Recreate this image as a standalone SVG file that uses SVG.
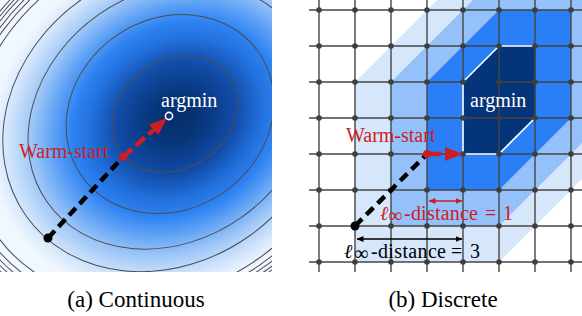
<svg xmlns="http://www.w3.org/2000/svg" width="582" height="316" viewBox="0 0 582 316">
  <defs>
    <radialGradient id="bg" gradientUnits="userSpaceOnUse" cx="0" cy="0" r="1" gradientTransform="translate(176 119) rotate(-35) scale(195 165)">
      <stop offset="0" stop-color="#052d6a"/>
      <stop offset="0.14" stop-color="#07367a"/>
      <stop offset="0.32" stop-color="#114ca8"/>
      <stop offset="0.46" stop-color="#2270dc"/>
      <stop offset="0.56" stop-color="#2e83f3"/>
      <stop offset="0.66" stop-color="#5ea1f5"/>
      <stop offset="0.78" stop-color="#9dc6f8"/>
      <stop offset="0.9" stop-color="#cfe3fb"/>
      <stop offset="1" stop-color="#f1f7ff"/>
    </radialGradient>
    <clipPath id="leftClip"><rect x="0" y="0" width="272" height="272"/></clipPath>
    <marker id="headRed" viewBox="0 0 18 14" refX="0" refY="7" markerWidth="18" markerHeight="14" markerUnits="userSpaceOnUse" orient="auto">
      <path d="M0,0 L18,7 L0,14 z" fill="#cc1f24"/>
    </marker>
    <marker id="tipRed" viewBox="0 0 7 6" refX="6.5" refY="3" markerWidth="7" markerHeight="6" markerUnits="userSpaceOnUse" orient="auto-start-reverse">
      <path d="M0,0 L7,3 L0,6 z" fill="#cc1f24"/>
    </marker>
    <marker id="tipBlack" viewBox="0 0 7 6" refX="6.5" refY="3" markerWidth="7" markerHeight="6" markerUnits="userSpaceOnUse" orient="auto-start-reverse">
      <path d="M0,0 L7,3 L0,6 z" fill="#000"/>
    </marker>
    <style>
      .contour { fill: none; stroke: #4d4d4d; stroke-width: 1; }
      .grid { stroke: #454545; stroke-width: 1.4; }
      .gdot { fill: #3e3e3e; }
      .lbl { font-family: "Liberation Serif", "Times New Roman", serif; font-size: 20px; }
      .cap { font-family: "Liberation Serif", "Times New Roman", serif; font-size: 23px; fill: #000; text-anchor: middle; }
      .red { fill: #cc1f24; }
      .white { fill: #ffffff; }
      .blk { fill: #000; }
      .dashBlack { fill: none; stroke: #000; stroke-width: 4.5; }
      .dashRed { fill: none; stroke: #cc1f24; stroke-width: 4.5; }
      .thinRed { fill: none; stroke: #cc1f24; stroke-width: 1.5; }
      .thinBlack { fill: none; stroke: #000; stroke-width: 1.5; }
    </style>
  </defs>

  <rect x="0" y="0" width="582" height="316" fill="#ffffff"/>

  <!-- (a) Continuous -->
  <g id="panel-continuous" clip-path="url(#leftClip)">
    <rect x="0" y="0" width="272" height="272" fill="url(#bg)"/>
    <g id="contours">
      <ellipse class="contour" cx="175" cy="114" rx="66" ry="54" transform="rotate(-35 175 114)"/>
      <ellipse class="contour" cx="170" cy="114" rx="108" ry="95" transform="rotate(-35 170 114)"/>
      <ellipse class="contour" cx="170" cy="116" rx="150" ry="124" transform="rotate(-35 170 116)"/>
      <ellipse class="contour" cx="165" cy="118" rx="170" ry="145" transform="rotate(-35 165 118)"/>
      <ellipse class="contour" cx="160" cy="120" rx="200" ry="170" transform="rotate(-35 160 120)"/>
      <ellipse class="contour" cx="160" cy="120" rx="208" ry="176" transform="rotate(-35 160 120)"/>
      <ellipse class="contour" cx="160" cy="120" rx="213" ry="180" transform="rotate(-35 160 120)"/>
      <ellipse class="contour" cx="160" cy="120" rx="217" ry="184" transform="rotate(-35 160 120)"/>
      <ellipse class="contour" cx="160" cy="120" rx="221" ry="187" transform="rotate(-35 160 120)"/>
      <ellipse class="contour" cx="160" cy="120" rx="225" ry="190" transform="rotate(-35 160 120)"/>
    </g>
  </g>

  <!-- (b) Discrete: level regions -->
  <g id="panel-discrete">
    <polygon id="level3" points="355,262 355,82 437,0 582,0 582,179 499,262" fill="#d6e7fc"/>
    <polygon id="level2" points="391,226 391,82 473,0 582,0 582,143 499,226" fill="#94c1f9"/>
    <polygon id="level1" points="427,190 427,82 499,10 571,10 571,118 499,190" fill="#2a7ff6"/>
    <g id="grid">
      <line class="grid" x1="309" y1="10" x2="582" y2="10"/>
      <line class="grid" x1="309" y1="46" x2="582" y2="46"/>
      <line class="grid" x1="309" y1="82" x2="582" y2="82"/>
      <line class="grid" x1="309" y1="118" x2="582" y2="118"/>
      <line class="grid" x1="309" y1="154" x2="582" y2="154"/>
      <line class="grid" x1="309" y1="190" x2="582" y2="190"/>
      <line class="grid" x1="309" y1="226" x2="582" y2="226"/>
      <line class="grid" x1="309" y1="262" x2="582" y2="262"/>
      <line class="grid" x1="319" y1="0" x2="319" y2="272"/>
      <line class="grid" x1="355" y1="0" x2="355" y2="272"/>
      <line class="grid" x1="391" y1="0" x2="391" y2="272"/>
      <line class="grid" x1="427" y1="0" x2="427" y2="272"/>
      <line class="grid" x1="463" y1="0" x2="463" y2="272"/>
      <line class="grid" x1="499" y1="0" x2="499" y2="272"/>
      <line class="grid" x1="535" y1="0" x2="535" y2="272"/>
      <line class="grid" x1="571" y1="0" x2="571" y2="272"/>
    </g>
    <g id="argmin-region">
      <polygon points="463,154 463,82 499,46 535,46 535,118 499,154" fill="#04357b"/>
      <polyline points="535,46 499,46 463,82 463,154 499,154 535,118" fill="none" stroke="#ffffff" stroke-width="1.6"/>
      <line class="grid" x1="499" y1="46" x2="499" y2="154"/>
      <line class="grid" x1="463" y1="118" x2="535" y2="118"/>
      <line class="grid" x1="499" y1="82" x2="535" y2="82"/>
      <line class="grid" x1="535" y1="46" x2="535" y2="118"/>
    </g>
    <g id="grid-dots">
      <g transform="translate(0 10)"><circle class="gdot" cx="319" cy="0" r="2.8"/><circle class="gdot" cx="355" cy="0" r="2.8"/><circle class="gdot" cx="391" cy="0" r="2.8"/><circle class="gdot" cx="427" cy="0" r="2.8"/><circle class="gdot" cx="463" cy="0" r="2.8"/><circle class="gdot" cx="499" cy="0" r="2.8"/><circle class="gdot" cx="535" cy="0" r="2.8"/><circle class="gdot" cx="571" cy="0" r="2.8"/></g>
      <g transform="translate(0 46)"><circle class="gdot" cx="319" cy="0" r="2.8"/><circle class="gdot" cx="355" cy="0" r="2.8"/><circle class="gdot" cx="391" cy="0" r="2.8"/><circle class="gdot" cx="427" cy="0" r="2.8"/><circle class="gdot" cx="463" cy="0" r="2.8"/><circle class="gdot" cx="499" cy="0" r="2.8"/><circle class="gdot" cx="535" cy="0" r="2.8"/><circle class="gdot" cx="571" cy="0" r="2.8"/></g>
      <g transform="translate(0 82)"><circle class="gdot" cx="319" cy="0" r="2.8"/><circle class="gdot" cx="355" cy="0" r="2.8"/><circle class="gdot" cx="391" cy="0" r="2.8"/><circle class="gdot" cx="427" cy="0" r="2.8"/><circle class="gdot" cx="463" cy="0" r="2.8"/><circle class="gdot" cx="499" cy="0" r="2.8"/><circle class="gdot" cx="535" cy="0" r="2.8"/><circle class="gdot" cx="571" cy="0" r="2.8"/></g>
      <g transform="translate(0 118)"><circle class="gdot" cx="319" cy="0" r="2.8"/><circle class="gdot" cx="355" cy="0" r="2.8"/><circle class="gdot" cx="391" cy="0" r="2.8"/><circle class="gdot" cx="427" cy="0" r="2.8"/><circle class="gdot" cx="463" cy="0" r="2.8"/><circle class="gdot" cx="499" cy="0" r="2.8"/><circle class="gdot" cx="535" cy="0" r="2.8"/><circle class="gdot" cx="571" cy="0" r="2.8"/></g>
      <g transform="translate(0 154)"><circle class="gdot" cx="319" cy="0" r="2.8"/><circle class="gdot" cx="355" cy="0" r="2.8"/><circle class="gdot" cx="391" cy="0" r="2.8"/><circle class="gdot" cx="427" cy="0" r="2.8"/><circle class="gdot" cx="463" cy="0" r="2.8"/><circle class="gdot" cx="499" cy="0" r="2.8"/><circle class="gdot" cx="535" cy="0" r="2.8"/><circle class="gdot" cx="571" cy="0" r="2.8"/></g>
      <g transform="translate(0 190)"><circle class="gdot" cx="319" cy="0" r="2.8"/><circle class="gdot" cx="355" cy="0" r="2.8"/><circle class="gdot" cx="391" cy="0" r="2.8"/><circle class="gdot" cx="427" cy="0" r="2.8"/><circle class="gdot" cx="463" cy="0" r="2.8"/><circle class="gdot" cx="499" cy="0" r="2.8"/><circle class="gdot" cx="535" cy="0" r="2.8"/><circle class="gdot" cx="571" cy="0" r="2.8"/></g>
      <g transform="translate(0 226)"><circle class="gdot" cx="319" cy="0" r="2.8"/><circle class="gdot" cx="355" cy="0" r="2.8"/><circle class="gdot" cx="391" cy="0" r="2.8"/><circle class="gdot" cx="427" cy="0" r="2.8"/><circle class="gdot" cx="463" cy="0" r="2.8"/><circle class="gdot" cx="499" cy="0" r="2.8"/><circle class="gdot" cx="535" cy="0" r="2.8"/><circle class="gdot" cx="571" cy="0" r="2.8"/></g>
      <g transform="translate(0 262)"><circle class="gdot" cx="319" cy="0" r="2.8"/><circle class="gdot" cx="355" cy="0" r="2.8"/><circle class="gdot" cx="391" cy="0" r="2.8"/><circle class="gdot" cx="427" cy="0" r="2.8"/><circle class="gdot" cx="463" cy="0" r="2.8"/><circle class="gdot" cx="499" cy="0" r="2.8"/><circle class="gdot" cx="535" cy="0" r="2.8"/><circle class="gdot" cx="571" cy="0" r="2.8"/></g>
    </g>
  </g>

  <!-- connectors -->
  <g id="connectors">
    <path class="dashBlack" d="M48,238 L123,157" stroke-dasharray="10 5.5"/>
    <path class="dashRed" d="M123,157 L153.5,129.9" stroke-dasharray="12 5" marker-end="url(#headRed)"/>
    <path class="dashBlack" d="M355,226 L427,154" stroke-dasharray="10 6"/>
    <path class="dashRed" d="M427,154 L445,154" stroke-dasharray="14 6" marker-end="url(#headRed)"/>
    <path class="thinRed" d="M429,201 L462,201" marker-start="url(#tipRed)" marker-end="url(#tipRed)"/>
    <path class="thinBlack" d="M357,239 L462,239" marker-start="url(#tipBlack)" marker-end="url(#tipBlack)"/>
  </g>

  <!-- nodes -->
  <g id="node-start-continuous"><circle cx="48" cy="238" r="4.5" fill="#000"/></g>
  <g id="node-warm-continuous">
    <circle cx="123" cy="157" r="4" fill="#cc1f24"/>
    <text class="lbl red" x="19" y="158">Warm-start</text>
  </g>
  <g id="node-argmin-continuous">
    <circle cx="169" cy="116" r="3.6" fill="none" stroke="#ffffff" stroke-width="1.6"/>
    <text class="lbl white" x="161" y="107">argmin</text>
  </g>

  <g id="node-start-discrete"><circle cx="355" cy="226" r="4.5" fill="#000"/></g>
  <g id="node-warm-discrete">
    <circle cx="427" cy="154" r="4" fill="#cc1f24"/>
    <text class="lbl red" x="346" y="142">Warm-start</text>
  </g>
  <g id="node-argmin-discrete">
    <text class="lbl white" x="470" y="107">argmin</text>
  </g>
  <g id="label-dist1">
    <text class="lbl red"><tspan x="380" y="220" font-style="italic">ℓ</tspan><tspan x="388" y="222" font-size="20">∞</tspan><tspan x="404" y="220" textLength="74">-distance</tspan><tspan x="485" y="220">=</tspan><tspan x="503" y="220">1</tspan></text>
  </g>
  <g id="label-dist3">
    <text class="lbl blk"><tspan x="344" y="258" font-style="italic">ℓ</tspan><tspan x="354" y="260" font-size="20">∞</tspan><tspan x="371" y="258" textLength="75">-distance</tspan><tspan x="451" y="258">=</tspan><tspan x="470" y="258">3</tspan></text>
  </g>

  <g id="captions">
    <text class="cap" x="136" y="307">(a) Continuous</text>
    <text class="cap" x="443" y="307">(b) Discrete</text>
  </g>
</svg>
